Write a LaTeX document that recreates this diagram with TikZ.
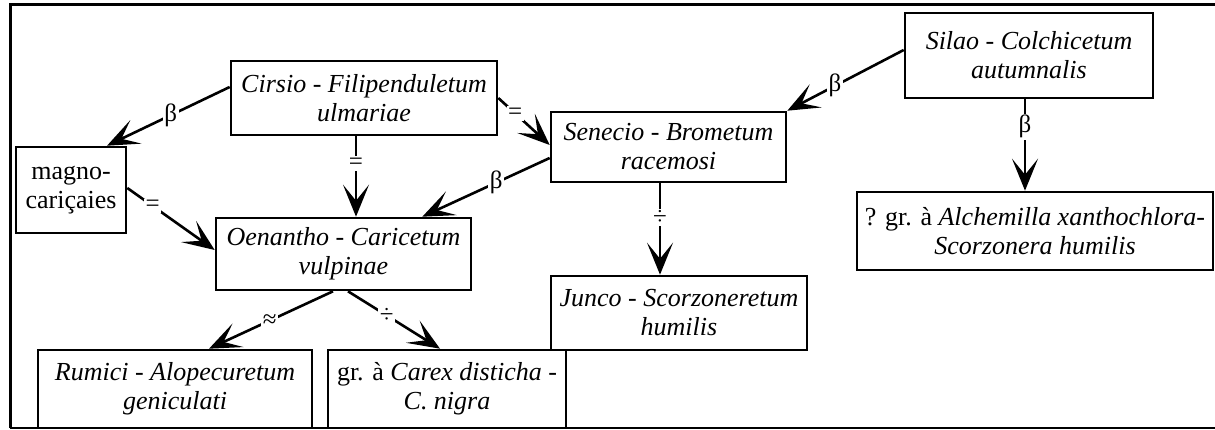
\documentclass[tikz,border=0pt]{standalone}
\usepackage{fontspec}
\setmainfont{Liberation Serif}
\usetikzlibrary{arrows.meta}
\begin{document}
\begin{tikzpicture}[x=1pt,y=-1pt,
  box/.style={draw, line width=2.6pt, inner sep=0pt, align=center,
    font=\fontsize{26}{29}\selectfont\itshape},
  conn/.style={line width=2.6pt, -{Stealth[length=32pt,width=26pt,inset=16pt]}},
  lbl/.style={fill=white, inner sep=1.5pt, font=\fontsize{25}{27}\selectfont}]
\useasboundingbox (0,0) rectangle (1215,430);
\draw[line width=3pt] (10,428) -- (10,5) -- (1225,5);
\draw[line width=2pt] (10,428) -- (1225,428);
\node[box, minimum width=266pt, minimum height=74pt] (cirsio) at (364,98) {Cirsio - Filipenduletum\\ulmariae};
\node[box, minimum width=110pt, minimum height=86pt] (magno) at (71,190) {\upshape magno-\\\upshape cariçaies};
\node[box, minimum width=235pt, minimum height=70pt] (senecio) at (668.5,147) {Senecio - Brometum\\racemosi};
\node[box, minimum width=248pt, minimum height=85pt] (silao) at (1029,55.5) {Silao - Colchicetum\\autumnalis};
\node[box, minimum width=356pt, minimum height=78pt] (alch) at (1035,231) {{\upshape ? gr. à }Alchemilla xanthochlora-\\Scorzonera humilis};
\node[box, minimum width=255pt, minimum height=72pt] (oen) at (343.5,254) {Oenantho - Caricetum\\vulpinae};
\node[box, minimum width=256pt, minimum height=74pt] (junco) at (679,313) {Junco - Scorzoneretum\\humilis};
\node[box, minimum width=274pt, minimum height=78pt] (rumici) at (175,389) {Rumici - Alopecuretum\\geniculati};
\node[box, minimum width=238pt, minimum height=78pt] (carex) at (447,389) {{\upshape gr. à }Carex disticha -\\C. nigra};
\draw[conn] ([yshift=11pt]cirsio.west) -- node[lbl, pos=0.48] {β} ([xshift=36pt]magno.north);
\draw[conn] (cirsio.east) -- node[lbl, pos=0.33] {=} ([yshift=2pt]senecio.west);
\draw[conn] ([xshift=-8pt]cirsio.south) -- node[lbl, pos=0.34] {=} ([xshift=12.5pt]oen.north);
\draw[conn] ([yshift=-11pt]senecio.west) -- node[lbl, pos=0.42] {β} ([xshift=-50pt]oen.north east);
\draw[conn] ([yshift=2pt]magno.east) -- node[lbl, pos=0.29] {=} ([yshift=4pt]oen.west);
\draw[conn] ([yshift=5.5pt]silao.west) -- node[lbl, pos=0.59] {β} (senecio.north east);
\draw[conn] ([xshift=-4pt]silao.south) -- node[lbl, pos=0.30] {β} ([xshift=-10pt]alch.north);
\draw[conn] ([xshift=-8.5pt]senecio.south) -- node[lbl, pos=0.37] {÷} ([xshift=-19pt]junco.north);
\draw[conn] ([xshift=-10.5pt]oen.south) -- node[lbl, pos=0.51] {≈} ([xshift=34pt]rumici.north);
\draw[conn] ([xshift=4.5pt]oen.south) -- node[lbl, pos=0.42] {÷} ([xshift=-7pt]carex.north);
\end{tikzpicture}
\end{document}
